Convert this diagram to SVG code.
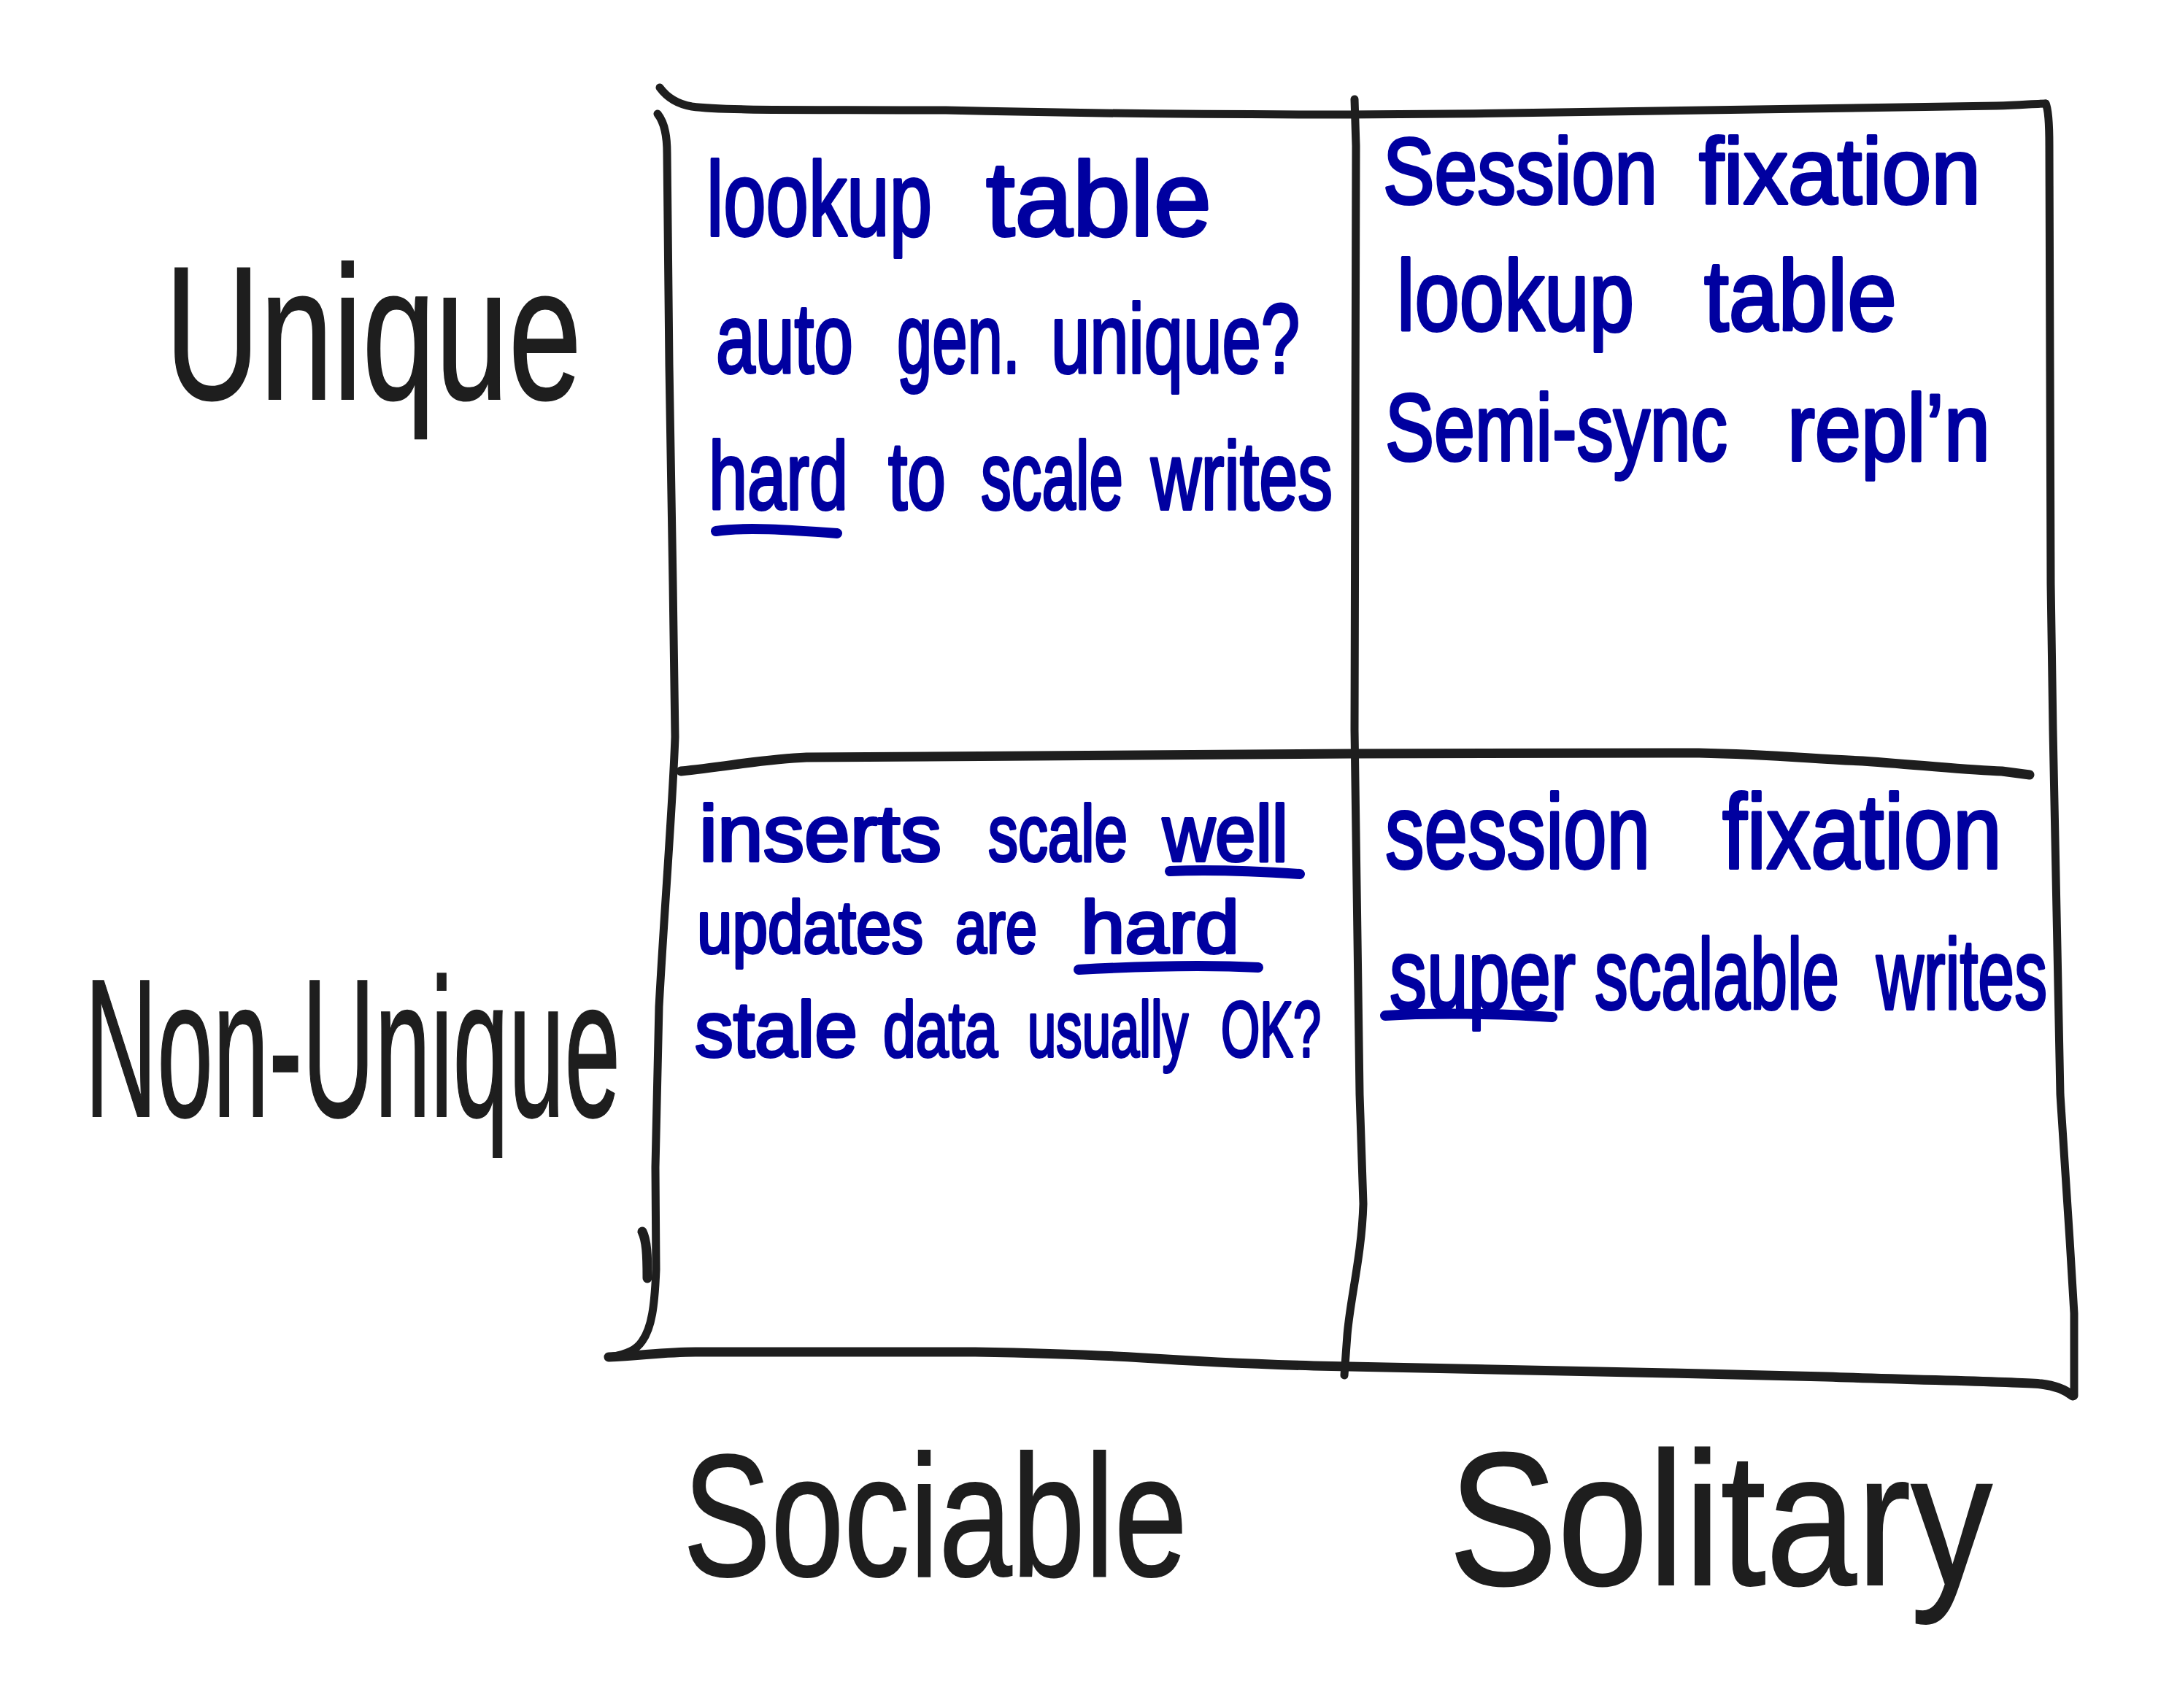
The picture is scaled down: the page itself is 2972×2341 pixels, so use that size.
<svg xmlns="http://www.w3.org/2000/svg" width="2972" height="2341" viewBox="0 0 2972 2341">
<style>
.grid{fill:none;stroke:#1e1e1e;stroke-width:11;stroke-linecap:round;stroke-linejoin:round}
.lbl{font-family:"Liberation Sans","DejaVu Sans",sans-serif;fill:#1e1e1e;stroke:#1e1e1e;stroke-width:2}
.note{font-family:"Liberation Sans","DejaVu Sans",sans-serif;fill:#0000a0;stroke:#0000a0;stroke-width:4;stroke-linejoin:round}
.ul{fill:none;stroke:#0000a0;stroke-width:14;stroke-linecap:round}
</style>
<rect width="2972" height="2341" fill="#ffffff"/>
<g id="grid">
<path class="grid" d="M 904 120 C 915 135 930 143 948 146 C 990 152 1100 150 1296 151 C 1500 156 1700 157 1850 157 C 2200 155 2600 148 2736 145 C 2770 144 2790 142 2803 142"/>
<path class="grid" d="M 901 156 C 912 170 914 190 914 210 L 917 500 L 922 800 L 925 1010 C 922 1100 910 1250 903 1380 L 898 1600 L 899 1740 C 897 1790 893 1820 880 1838 C 872 1850 860 1856 836 1860"/>
<path class="grid" d="M 880 1688 C 886 1700 887 1720 887 1752" style="stroke-width:13"/>
<path class="grid" d="M 1856 136 L 1858 200 L 1857 600 L 1856 1000 L 1863 1500 L 1868 1650 C 1866 1720 1850 1780 1846 1830 L 1842 1885"/>
<path class="grid" d="M 2803 142 C 2807 150 2808 170 2808 200 L 2810 800 L 2813 1000 L 2823 1500 L 2836 1700 L 2842 1800 L 2842 1913"/>
<path class="grid" d="M 933 1057 C 1000 1050 1050 1040 1105 1038 L 1850 1033 L 2328 1032 C 2430 1034 2480 1040 2552 1043 C 2650 1050 2700 1056 2743 1057 L 2781 1062" style="stroke-width:13"/>
<path class="grid" d="M 834 1860 C 880 1858 910 1853 953 1853 L 1336 1853 C 1450 1855 1500 1857 1565 1861 C 1640 1866 1700 1869 1800 1872 L 2291 1882 L 2502 1887 C 2650 1892 2760 1894 2797 1897 C 2815 1899 2830 1905 2840 1913" style="stroke-width:13"/>
</g>
<g id="label-unique"><text class="lbl" x="226" y="547" font-size="261" textLength="571" lengthAdjust="spacingAndGlyphs">Unique</text></g>
<g id="label-non-unique"><text class="lbl" x="116" y="1530" font-size="270" textLength="734" lengthAdjust="spacingAndGlyphs">Non-Unique</text></g>
<g id="label-sociable"><text class="lbl" x="936" y="2160" font-size="237" textLength="691" lengthAdjust="spacingAndGlyphs">Sociable</text></g>
<g id="label-solitary"><text class="lbl" x="1985" y="2172" font-size="260" textLength="745" lengthAdjust="spacingAndGlyphs">Solitary</text></g>
<g id="cell-unique-sociable">
<text class="note" y="323" font-size="145"><tspan x="968" textLength="309" lengthAdjust="spacingAndGlyphs">lookup</tspan> <tspan x="1351" textLength="309" lengthAdjust="spacingAndGlyphs">table</tspan></text>
<text class="note" y="511" font-size="135"><tspan x="981" textLength="188" lengthAdjust="spacingAndGlyphs">auto</tspan> <tspan x="1229" textLength="169" lengthAdjust="spacingAndGlyphs">gen.</tspan> <tspan x="1440" textLength="341" lengthAdjust="spacingAndGlyphs">unique?</tspan></text>
<text class="note" y="698" font-size="132"><tspan x="971" textLength="191" lengthAdjust="spacingAndGlyphs">hard</tspan> <tspan x="1217" textLength="79" lengthAdjust="spacingAndGlyphs">to</tspan> <tspan x="1344" textLength="195" lengthAdjust="spacingAndGlyphs">scale</tspan> <tspan x="1577" textLength="249" lengthAdjust="spacingAndGlyphs">writes</tspan></text>
<path class="ul" d="M 981 728 C 1020 722 1080 726 1147 731"/>
</g>
<g id="cell-unique-solitary">
<text class="note" y="279" font-size="128"><tspan x="1895" textLength="376" lengthAdjust="spacingAndGlyphs">Session</tspan> <tspan x="2328" textLength="386" lengthAdjust="spacingAndGlyphs">fixation</tspan></text>
<text class="note" y="453" font-size="138"><tspan x="1914" textLength="325" lengthAdjust="spacingAndGlyphs">lookup</tspan> <tspan x="2335" textLength="264" lengthAdjust="spacingAndGlyphs">table</tspan></text>
<text class="note" y="631" font-size="130"><tspan x="1898" textLength="469" lengthAdjust="spacingAndGlyphs">Semi-sync</tspan> <tspan x="2449" textLength="278" lengthAdjust="spacingAndGlyphs">repl’n</tspan></text>
</g>
<g id="cell-nonunique-sociable">
<text class="note" y="1180" font-size="110"><tspan x="958" textLength="332" lengthAdjust="spacingAndGlyphs">inserts</tspan> <tspan x="1354" textLength="191" lengthAdjust="spacingAndGlyphs">scale</tspan> <tspan x="1593" textLength="172" lengthAdjust="spacingAndGlyphs">well</tspan></text>
<path class="ul" d="M 1603 1194 C 1650 1192 1720 1194 1781 1198"/>
<text class="note" y="1306" font-size="102"><tspan x="955" textLength="310" lengthAdjust="spacingAndGlyphs">updates</tspan> <tspan x="1309" textLength="112" lengthAdjust="spacingAndGlyphs">are</tspan> <tspan x="1481" textLength="217" lengthAdjust="spacingAndGlyphs">hard</tspan></text>
<path class="ul" d="M 1478 1329 C 1550 1325 1650 1322 1724 1326"/>
<text class="note" y="1448" font-size="108"><tspan x="952" textLength="223" lengthAdjust="spacingAndGlyphs">stale</tspan> <tspan x="1210" textLength="157" lengthAdjust="spacingAndGlyphs">data</tspan> <tspan x="1408" textLength="220" lengthAdjust="spacingAndGlyphs">usually</tspan> <tspan x="1673" textLength="137" lengthAdjust="spacingAndGlyphs">OK?</tspan></text>
</g>
<g id="cell-nonunique-solitary">
<text class="note" y="1190" font-size="145"><tspan x="1898" textLength="363" lengthAdjust="spacingAndGlyphs">session</tspan> <tspan x="2360" textLength="383" lengthAdjust="spacingAndGlyphs">fixation</tspan></text>
<text class="note" y="1383" font-size="138"><tspan x="1904" textLength="255" lengthAdjust="spacingAndGlyphs">super</tspan> <tspan x="2185" textLength="335" lengthAdjust="spacingAndGlyphs">scalable</tspan> <tspan x="2571" textLength="234" lengthAdjust="spacingAndGlyphs">writes</tspan></text>
<path class="ul" d="M 1898 1392 C 1960 1388 2060 1389 2127 1394"/>
</g>
</svg>
